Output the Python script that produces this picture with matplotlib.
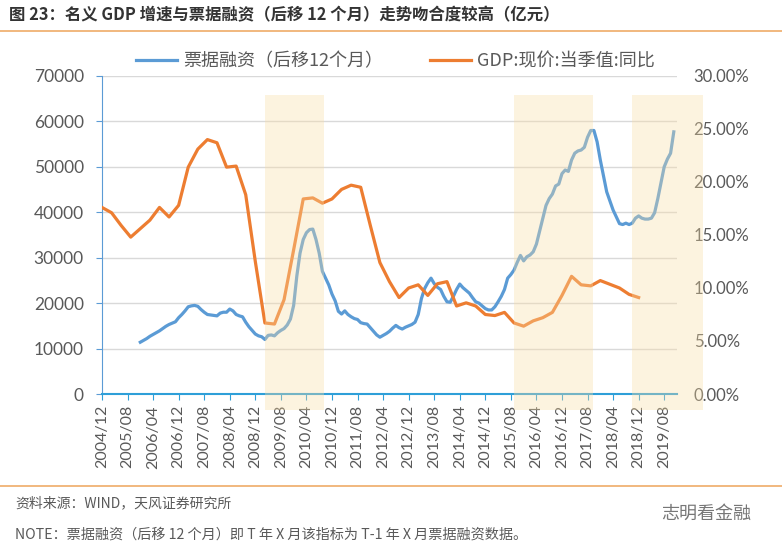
import matplotlib as mpl
mpl.use('Agg')
import matplotlib.pyplot as plt
from matplotlib.ticker import FuncFormatter

plt.rcParams['font.family'] = ['Noto Sans CJK SC', 'DejaVu Sans']

# month index 0 = 2004/12
gdp_months = list(range(0, 169, 3))
gdp_yoy = [17.6, 17.1, 15.9, 14.8, 15.6, 16.4, 17.6, 16.7, 17.8, 21.4,
           23.1, 24.0, 23.7, 21.4, 21.5, 18.8, 12.5, 6.7, 6.6, 8.9,
           13.6, 18.4, 18.5, 18.0, 18.4, 19.3, 19.7, 19.5, 15.9, 12.4,
           10.6, 9.1, 10.0, 10.3, 9.3, 10.4, 10.6, 8.3, 8.6, 8.3,
           7.5, 7.4, 7.7, 6.7, 6.4, 6.9, 7.2, 7.7, 9.3, 11.1,
           10.3, 10.2, 10.7, 10.35, 10.0, 9.4, 9.1]

bill_months = list(range(12, 180))
bill_fin = [11400, 11800, 12200, 12700, 13100, 13500, 13900, 14400, 14900, 15300,
            15600, 15900, 16800, 17500, 18300, 19200, 19400, 19500, 19300, 18600,
            18000, 17500, 17400, 17300, 17200, 17800, 18000, 18000, 18700, 18300,
            17500, 17200, 17000, 15800, 14800, 14000, 13200, 12800, 12600, 12000,
            12900, 13000, 12800, 13500, 14000, 14400, 15200, 16500, 19500, 26000,
            31000, 34000, 35500, 36200, 36300, 34000, 31000, 27000, 25500, 24000,
            22000, 20500, 18200, 17600, 18300, 17500, 17000, 16600, 16400, 15700,
            15500, 15400, 14600, 13800, 13000, 12500, 12900, 13300, 13800, 14500,
            15100, 14600, 14300, 14700, 15000, 15300, 15800, 17500, 21000, 23200,
            24500, 25500, 24300, 23500, 23000, 21500, 20300, 20200, 21500, 23000,
            24200, 23400, 22800, 22200, 21200, 20300, 20000, 19400, 18800, 18500,
            18500, 19200, 20300, 21500, 23000, 25500, 26300, 27300, 29000, 30500,
            29300, 30200, 30600, 31300, 33000, 35800, 38500, 41500, 43000, 44000,
            45800, 46200, 48500, 49300, 49000, 51500, 53000, 53500, 53700, 54300,
            56500, 58000, 58000, 55500, 51500, 48000, 44500, 42500, 40500, 39000,
            37500, 37300, 37600, 37300, 37600, 38700, 39200, 38700, 38500, 38500,
            38700, 39900, 43000, 46500, 50000, 51700, 53000, 57700]

tick_months = list(range(0, 177, 8))
tick_labels = ['2004/12', '2005/08', '2006/04', '2006/12', '2007/08', '2008/04',
               '2008/12', '2009/08', '2010/04', '2010/12', '2011/08', '2012/04',
               '2012/12', '2013/08', '2014/04', '2014/12', '2015/08', '2016/04',
               '2016/12', '2017/08', '2018/04', '2018/12', '2019/08']

# highlighted periods (month index start, end)
shade_periods = [(51, 69.5), (129, 153.7), (165.9, 188)]

grey = '#595959'
blue = '#5b9bd5'
orange = '#ed7d31'

fig = plt.figure(figsize=(7.82, 5.47), dpi=100)
ax = fig.add_axes([0.1304, 0.2797, 0.7353, 0.5814])
ax2 = ax.twinx()

ax.plot(bill_months, bill_fin, color=blue, lw=2.3, label='票据融资（后移12个月）', zorder=3)
ax2.plot(gdp_months, gdp_yoy, color=orange, lw=2.3, label='GDP:现价:当季值:同比', zorder=3)

for s, e in shade_periods:
    ax2.axvspan(s, e, ymin=-0.05, ymax=0.94, color='#f9dda4', alpha=0.35,
                lw=0, clip_on=False, zorder=5)

ax.set_xlim(0, 180)
ax.set_ylim(0, 70000)
ax2.set_ylim(0, 30)
ax.set_yticks(range(0, 70001, 10000))
ax2.set_yticks(range(0, 31, 5))
ax2.yaxis.set_major_formatter(FuncFormatter(lambda v, p: '%.2f%%' % v))

ax.set_xticks(tick_months)
ax.set_xticklabels(tick_labels, rotation=90, family='Lato', fontsize=11.5, color=grey)
for lab in ax.get_yticklabels():
    lab.set_family('Lato')
    lab.set_fontsize(12.5)
    lab.set_color(grey)
for lab in ax2.get_yticklabels():
    lab.set_family('Lato')
    lab.set_fontsize(12)
    lab.set_color(grey)

ax.grid(axis='y', color='#d9d9d9', lw=1)
ax.set_axisbelow(True)
for sp in ['top', 'right']:
    ax.spines[sp].set_visible(False)
for sp in ['top', 'right', 'left', 'bottom']:
    ax2.spines[sp].set_visible(False)
ax.spines['left'].set_color(blue)
ax.spines['bottom'].set_color('#2e9fd8')
ax.spines['bottom'].set_linewidth(1.5)
ax.tick_params(axis='x', length=4, color='#2e9fd8', pad=4)
ax.tick_params(axis='y', length=4, color=blue, pad=9)
ax2.tick_params(axis='y', length=0, pad=12)

h1, l1 = ax.get_legend_handles_labels()
h2, l2 = ax2.get_legend_handles_labels()
ax.legend(h1 + h2, l1 + l2, ncol=2, loc='center', bbox_to_anchor=(0.51, 1.047),
          frameon=False, fontsize=13, handlelength=2.3, columnspacing=2.6,
          handletextpad=0.3, labelcolor=grey)

fig.text(0.011, 0.972, '图 23：名义 GDP 增速与票据融资（后移 12 个月）走势吻合度较高（亿元）',
         fontsize=11.8, fontweight='bold', color='#333333', va='center')
fig.add_artist(plt.Line2D([0, 1], [0.943, 0.943], color='#f0b274', lw=1.3))
fig.add_artist(plt.Line2D([0, 1], [0.112, 0.112], color='#f0b274', lw=1.3))
fig.text(0.019, 0.080, '资料来源：WIND，天风证券研究所', fontsize=10, color=grey, va='center')
fig.text(0.019, 0.022, 'NOTE：票据融资（后移 12 个月）即 T 年 X 月该指标为 T-1 年 X 月票据融资数据。',
         fontsize=10.2, color=grey, va='center')
fig.text(0.845, 0.061, '志明看金融', fontsize=13, color='#777777', va='center')

fig.savefig('out.png', dpi=100)
